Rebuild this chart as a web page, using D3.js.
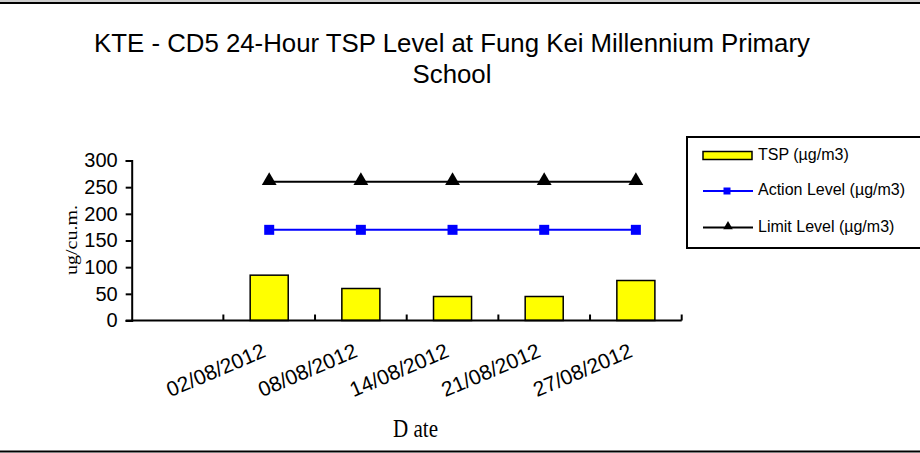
<!DOCTYPE html>
<html>
<head>
<meta charset="utf-8">
<script src="https://cdn.jsdelivr.net/npm/d3@7"></script>
<style>
    body { margin: 0; background: #fff; }
    svg { display: block; }
    .sans { font-family: "Liberation Sans", Arial, sans-serif; fill: #000; }
    .serif { font-family: "Liberation Serif", "Times New Roman", serif; fill: #000; }
</style>
</head>
<body>
<div id="chart"></div>
<script>
// chart values
var categories = ["", "02/08/2012", "08/08/2012", "14/08/2012", "21/08/2012", "27/08/2012"];
var tspValues = [null, 85, 60, 45, 45, 75];
var actionLevel = [null, 170, 170, 170, 170, 170];
var limitLevel = [null, 260, 260, 260, 260, 260];
var yTicks = [0, 50, 100, 150, 200, 250, 300];
var titleLines = ["KTE - CD5 24-Hour TSP Level at Fung Kei Millennium Primary", "School"];
var legendLabels = ["TSP (\u00b5g/m3)", "Action Level (\u00b5g/m3)", "Limit Level (\u00b5g/m3)"];

var width = 920,
    height = 453,
    plot = {left: 131.7, right: 681.7, top: 160.5, bottom: 320.5};

var svg = d3.select("#chart").append("svg")
    .attr("width", width)
    .attr("height", height);

// frame lines top and bottom
svg.append("line").attr("x1", 0).attr("x2", width).attr("y1", 1).attr("y2", 1)
    .style("stroke", "#999").style("stroke-width", 1);
svg.append("line").attr("x1", 0).attr("x2", width).attr("y1", 3).attr("y2", 3)
    .style("stroke", "#000").style("stroke-width", 2);
svg.append("line").attr("x1", 0).attr("x2", width).attr("y1", 451.5).attr("y2", 451.5)
    .style("stroke", "#000").style("stroke-width", 2);

var xScale = d3.scaleBand()
    .domain(categories)
    .range([plot.left, plot.right])
    .padding(0);

var yScale = d3.scaleLinear()
    .domain([0, 300])
    .range([plot.bottom, plot.top]);

function cx(d) { return xScale(d) + xScale.bandwidth() / 2; }

// title
svg.append("text")
    .attr("class", "sans")
    .attr("x", 450)
    .attr("y", 52)
    .style("font-size", "25.8px")
    .style("text-anchor", "middle")
    .selectAll("tspan")
    .data(titleLines)
    .enter()
    .append("tspan")
    .attr("x", 452)
    .attr("dy", function(d, i) { return i === 0 ? 0 : 31; })
    .text(function(d) { return d; });

// y axis
var yAxis = d3.axisLeft(yScale)
    .tickValues(yTicks)
    .tickSize(6)
    .tickPadding(8)
    .tickFormat(d3.format("d"));

var gy = svg.append("g")
    .attr("transform", "translate(" + plot.left + ",0)")
    .call(yAxis);
gy.select(".domain").style("stroke-width", 2);
gy.selectAll(".tick line").style("stroke-width", 2);
gy.selectAll(".tick text")
    .attr("class", "sans")
    .style("font-size", "20px")
    .style("font-family", "Liberation Sans, Arial, sans-serif");

// bars
var barWidth = xScale.bandwidth() * 0.415;
svg.append("g")
    .selectAll("rect")
    .data(categories.map(function(c, i) { return {cat: c, v: tspValues[i]}; })
        .filter(function(d) { return d.v !== null; }))
    .enter()
    .append("rect")
    .attr("x", function(d) { return cx(d.cat) - barWidth / 2; })
    .attr("y", function(d) { return yScale(d.v); })
    .attr("width", barWidth)
    .attr("height", function(d) { return yScale(0) - yScale(d.v); })
    .style("fill", "#ffff00")
    .style("stroke", "#000")
    .style("stroke-width", 1.5);

// x axis line with ticks pointing up at band edges
var edges = categories.map(function(c) { return xScale(c); }).concat([plot.right]);
var gx = svg.append("g");
gx.append("line")
    .attr("x1", plot.left - 6)
    .attr("x2", plot.right)
    .attr("y1", plot.bottom)
    .attr("y2", plot.bottom)
    .style("stroke", "#000")
    .style("stroke-width", 2);
gx.selectAll(".edge")
    .data(edges.slice(1))
    .enter()
    .append("line")
    .attr("class", "edge")
    .attr("x1", function(d) { return d; })
    .attr("x2", function(d) { return d; })
    .attr("y1", plot.bottom)
    .attr("y2", plot.bottom - 6)
    .style("stroke", "#000")
    .style("stroke-width", 2);

// rotated date labels
gx.selectAll(".xlabel")
    .data(categories.filter(function(c) { return c !== ""; }))
    .enter()
    .append("text")
    .attr("class", "sans xlabel")
    .attr("transform", function(d) { return "translate(" + (cx(d) - 8) + "," + (plot.bottom + 22) + ") rotate(-23)"; })
    .attr("dy", "0.71em")
    .style("font-size", "21px")
    .style("text-anchor", "end")
    .text(function(d) { return d; });

// level lines
var line = d3.line()
    .defined(function(d) { return d.v !== null; })
    .x(function(d) { return cx(d.cat); })
    .y(function(d) { return yScale(d.v); });

function levelData(values) {
    return categories.map(function(c, i) { return {cat: c, v: values[i]}; });
}

svg.append("path")
    .datum(levelData(actionLevel))
    .attr("d", line)
    .style("fill", "none")
    .style("stroke", "#0000ff")
    .style("stroke-width", 2);

svg.append("path")
    .datum(levelData(limitLevel))
    .attr("d", line)
    .style("fill", "none")
    .style("stroke", "#000")
    .style("stroke-width", 2);

var square = d3.symbol().type(d3.symbolSquare).size(100);
var triangle = d3.symbol().type(d3.symbolTriangle).size(95);

svg.append("g")
    .selectAll("path")
    .data(levelData(actionLevel).filter(function(d) { return d.v !== null; }))
    .enter()
    .append("path")
    .attr("d", square)
    .attr("transform", function(d) { return "translate(" + cx(d.cat) + "," + yScale(d.v) + ")"; })
    .style("fill", "#0000ff");

svg.append("g")
    .selectAll("path")
    .data(levelData(limitLevel).filter(function(d) { return d.v !== null; }))
    .enter()
    .append("path")
    .attr("d", triangle)
    .attr("transform", function(d) { return "translate(" + cx(d.cat) + "," + (yScale(d.v) - 1) + ")"; })
    .style("fill", "#000");

// axis titles
svg.append("text")
    .attr("class", "serif")
    .attr("transform", "translate(77,240) rotate(-90)")
    .attr("textLength", 70)
    .attr("lengthAdjust", "spacingAndGlyphs")
    .style("font-size", "16px")
    .style("text-anchor", "middle")
    .text("ug/cu.m.");

svg.append("text")
    .attr("class", "serif")
    .attr("x", 393)
    .attr("y", 437)
    .attr("textLength", 45)
    .attr("lengthAdjust", "spacingAndGlyphs")
    .style("font-size", "25px")
    .text("D ate");

// legend
var legend = svg.append("g");
legend.append("rect")
    .attr("x", 687)
    .attr("y", 137)
    .attr("width", 240)
    .attr("height", 111)
    .style("fill", "#fff")
    .style("stroke", "#000")
    .style("stroke-width", 2);

var rowY = [155.5, 191, 227.5];
legend.append("rect")
    .attr("x", 703)
    .attr("y", rowY[0] - 4)
    .attr("width", 49)
    .attr("height", 8)
    .style("fill", "#ffff00")
    .style("stroke", "#000")
    .style("stroke-width", 1.5);
legend.append("line")
    .attr("x1", 703).attr("x2", 753)
    .attr("y1", rowY[1]).attr("y2", rowY[1])
    .style("stroke", "#0000ff").style("stroke-width", 2);
legend.append("path")
    .attr("d", d3.symbol().type(d3.symbolSquare).size(49))
    .attr("transform", "translate(727," + rowY[1] + ")")
    .style("fill", "#0000ff");
legend.append("line")
    .attr("x1", 703).attr("x2", 753)
    .attr("y1", rowY[2]).attr("y2", rowY[2])
    .style("stroke", "#000").style("stroke-width", 2);
legend.append("path")
    .attr("d", d3.symbol().type(d3.symbolTriangle).size(40))
    .attr("transform", "translate(728," + (rowY[2] - 1) + ")")
    .style("fill", "#000");

legend.selectAll(".ltext")
    .data(legendLabels)
    .enter()
    .append("text")
    .attr("class", "sans ltext")
    .attr("x", 758)
    .attr("y", function(d, i) { return rowY[i] + 4; })
    .style("font-size", "16px")
    .text(function(d) { return d; });
</script>
</body>
</html>
